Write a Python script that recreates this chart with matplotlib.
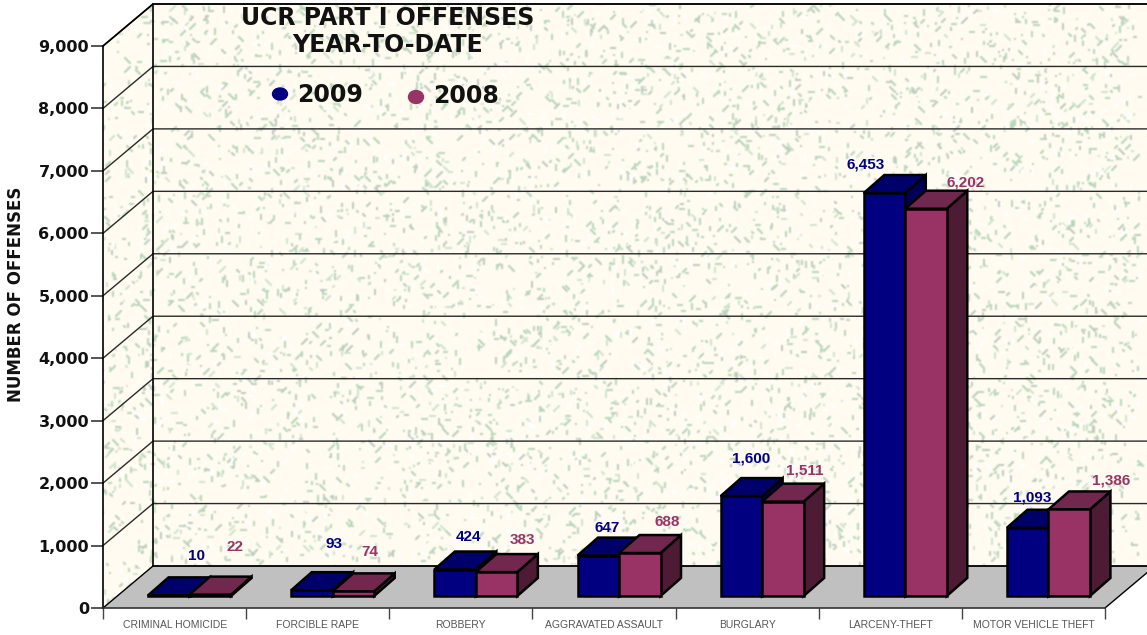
import matplotlib
matplotlib.use("Agg")
import matplotlib.pyplot as plt
from matplotlib.patches import Polygon, Ellipse
from matplotlib.path import Path
import numpy as np

W = 1147
H = 635

categories = ["CRIMINAL HOMICIDE", "FORCIBLE RAPE", "ROBBERY", "AGGRAVATED ASSAULT",
              "BURGLARY", "LARCENY-THEFT", "MOTOR VEHICLE THEFT"]
values_2009 = [10, 93, 424, 647, 1600, 6453, 1093]
values_2008 = [22, 74, 383, 688, 1511, 6202, 1386]
y_ticks = [0, 1000, 2000, 3000, 4000, 5000, 6000, 7000, 8000, 9000]

# where the value labels float, pixels away from the front top left corner of the bar
offsets_2009 = [(48, 39), (43, 46), (34, 33), (30, 28), (30, 38), (2, 29), (25, 30)]
offsets_2008 = [(45, 48), (37, 39), (47, 32), (48, 31), (43, 31), (60, 26), (63, 29)]

BLUE = ("#000080", "#00006A", "#000058")
RED = ("#993366", "#72284E", "#4D1B33")

# axes box in picture pixels
LEFT, RIGHT, TOP, BOTTOM = 103, 1105, 46, 608
px_x = (RIGHT - LEFT) / 7
px_y = (BOTTOM - TOP) / 9000

# 3d depth of the room and of the bars, in data units
room_dx = 50 / px_x
room_dy = 42 / px_y
bar_dx = 20.5 / px_x
bar_dy = 18 / px_y
front_dx = 15 / px_x
front_dy = 12 / px_y
bar_w = 41.5 / px_x


def MakeTexture():
    # speckled wallpaper, only decoration
    rng = np.random.default_rng(7)
    base = np.array([255, 251, 240]) / 255
    img = np.ones((H, W, 3)) * base
    green = np.array([186, 214, 188]) / 255
    gray = np.array([192, 204, 194]) / 255
    pale = np.array([208, 228, 206]) / 255
    white = np.array([255, 255, 255]) / 255
    for n in range(8500):
        x = rng.integers(0, W - 8)
        y = rng.integers(2, H - 10)
        length = rng.integers(1, 7)
        sx, sy = [(0, 1), (0, 1), (1, 1), (1, -1), (1, 0)][rng.integers(0, 5)]
        col = [green, green, green, gray, pale][rng.integers(0, 5)]
        if rng.random() < 0.25:
            col = white
        for k in range(length):
            xx = x + k * sx
            yy = y + k * sy
            img[max(yy, 0):yy + 2, xx:xx + 2] = col
    # soften a bit so the flecks look like the scaled up original
    soft = img.copy()
    for axis in (0, 1):
        soft = (np.roll(soft, 1, axis) + 2 * soft + np.roll(soft, -1, axis)) / 4
    return soft


def DrawBar(ax, x0, value, colors):
    y0 = front_dy
    y1 = front_dy + value
    x1 = x0 + bar_w
    style = dict(edgecolor="black", linewidth=1.8, joinstyle="miter", zorder=6, clip_on=False)
    ax.add_patch(Polygon([(x1, y0), (x1 + bar_dx, y0 + bar_dy), (x1 + bar_dx, y1 + bar_dy), (x1, y1)],
                         facecolor=colors[2], **style))
    ax.add_patch(Polygon([(x0, y1), (x1, y1), (x1 + bar_dx, y1 + bar_dy), (x0 + bar_dx, y1 + bar_dy)],
                         facecolor=colors[1], **style))
    ax.bar(x0, value, bottom=y0, width=bar_w, align="edge", color=colors[0], edgecolor="black",
           linewidth=1.8, zorder=6, clip_on=False)


fig = plt.figure(figsize=(W / 100, H / 100), dpi=100, facecolor="white")
ax = fig.add_axes([LEFT / W, 1 - BOTTOM / H, (RIGHT - LEFT) / W, (BOTTOM - TOP) / H])
ax.patch.set_visible(False)

# walls with the texture clipped to them
side = [(0, 0), (room_dx, room_dy), (room_dx, 9000 + room_dy), (0, 9000)]
back = [(room_dx, room_dy), (7 + room_dx, room_dy), (7 + room_dx, 9000 + room_dy), (room_dx, 9000 + room_dy)]
im = ax.imshow(MakeTexture(), extent=(0, 1, 0, 1), transform=fig.transFigure, aspect="auto",
               interpolation="nearest", zorder=0)
wall_verts = side + side[:1] + back + back[:1]
wall_codes = ([Path.MOVETO] + [Path.LINETO] * 3 + [Path.CLOSEPOLY]) * 2
im.set_clip_box(fig.bbox)
im.set_clip_path(Path(wall_verts, wall_codes), ax.transData)

ax.set_xlim(0, 7)
ax.set_ylim(0, 9000)

# floor
ax.add_patch(Polygon([(0, 0), (room_dx, room_dy), (7 + room_dx, room_dy), (7, 0)],
                     facecolor="#C0C0C0", edgecolor="none", zorder=1, clip_on=False))
ax.plot([room_dx, 7 + room_dx], [room_dy, room_dy], color="black", lw=1.3, zorder=2, clip_on=False)
ax.plot([7, 7 + room_dx], [0, room_dy], color="black", lw=1, zorder=2, clip_on=False)

# wall grid
for v in y_ticks[1:]:
    ax.plot([0, room_dx, 7 + room_dx], [v, v + room_dy, v + room_dy], color="#2A2A2A", lw=1,
            zorder=2, clip_on=False)
ax.plot([0, room_dx], [0, room_dy], color="black", lw=1, zorder=2, clip_on=False)
ax.plot([room_dx, room_dx], [room_dy, 9000 + room_dy], color="black", lw=1.2, zorder=2, clip_on=False)
ax.plot([0, room_dx, 7 + room_dx], [9000, 9000 + room_dy, 9000 + room_dy], color="black", lw=1.2,
        zorder=2, clip_on=False)

for i in range(len(categories)):
    x_mid = i + 0.5 + front_dx
    DrawBar(ax, x_mid - bar_w, values_2009[i], BLUE)
    DrawBar(ax, x_mid, values_2008[i], RED)
    ax.annotate(f"{values_2009[i]:,}", (x_mid - bar_w, front_dy + values_2009[i]), xytext=offsets_2009[i],
                textcoords="offset pixels", ha="center", va="center", color=BLUE[0],
                fontsize=11, fontweight="bold", family="Liberation Sans", zorder=7)
    ax.annotate(f"{values_2008[i]:,}", (x_mid, front_dy + values_2008[i]), xytext=offsets_2008[i],
                textcoords="offset pixels", ha="center", va="center", color=RED[0],
                fontsize=11, fontweight="bold", family="Liberation Sans", zorder=7)

# axes
for s in ["top", "right"]:
    ax.spines[s].set_visible(False)
ax.spines["left"].set_color("black")
ax.spines["left"].set_linewidth(1.2)
ax.spines["bottom"].set_color("#333333")
ax.spines["bottom"].set_linewidth(1.2)
ax.set_yticks(y_ticks)
ax.set_yticklabels([f"{v:,}" for v in y_ticks], fontsize=11.5, fontweight="bold", color="#111111")
ax.tick_params(axis="y", length=9, width=1.4, color="#555555", pad=1)
ax.set_xticks(range(8))
ax.set_xticklabels([])
ax.tick_params(axis="x", which="major", length=8, width=1, color="#444444")
ax.set_xticks(np.arange(len(categories)) + 0.5, minor=True)
ax.set_xticklabels(categories, minor=True, fontsize=7.5, color="#555555", family="Liberation Sans")
ax.tick_params(axis="x", which="minor", length=0, pad=8.5)

# text in picture pixels
fig.text(388 / W, 1 - 18 / H, "UCR PART I OFFENSES", ha="center", va="center", fontsize=17,
         fontweight="bold", color="#111111")
fig.text(388 / W, 1 - 45 / H, "YEAR-TO-DATE", ha="center", va="center", fontsize=17,
         fontweight="bold", color="#111111")
fig.text(16 / W, 1 - 294 / H, "NUMBER OF OFFENSES", rotation=90, ha="center", va="center",
         fontsize=12, fontweight="bold", color="#111111")
fig.add_artist(Ellipse((280 / W, 1 - 94 / H), 15 / W, 12 / H, transform=fig.transFigure, color=BLUE[0]))
fig.add_artist(Ellipse((416 / W, 1 - 97 / H), 15 / W, 13 / H, transform=fig.transFigure, color=RED[0]))
fig.text(297 / W, 1 - 95 / H, "2009", ha="left", va="center", fontsize=17, fontweight="bold", color="#111111")
fig.text(433 / W, 1 - 96 / H, "2008", ha="left", va="center", fontsize=17, fontweight="bold", color="#111111")

fig.savefig("out.png", dpi=100)
